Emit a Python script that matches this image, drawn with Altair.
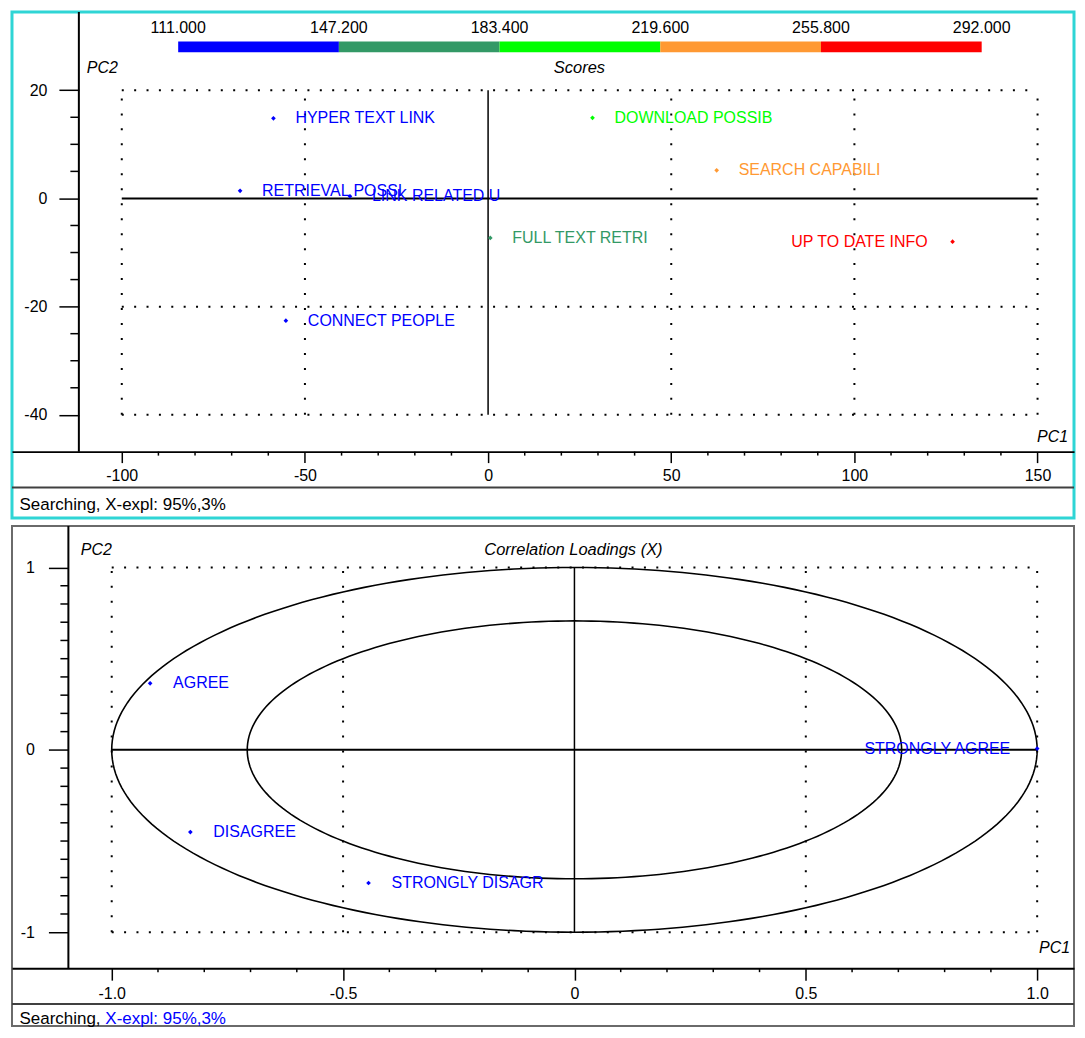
import altair as alt
import numpy as np
import pandas as pd

FONT = "Liberation Sans"

# ---------------- data: scores panel ----------------
score_labels = ["HYPER TEXT LINK", "DOWNLOAD POSSIB", "SEARCH CAPABILI", "RETRIEVAL POSSI",
                "LINK  RELATED U", "FULL TEXT RETRI", "UP TO DATE INFO", "CONNECT PEOPLE"]
score_pc1 = [-58.6, 28.5, 62.4, -67.7, -37.7, 0.6, 126.8, -55.2]
score_pc2 = [14.8, 14.9, 5.2, 1.4, 0.4, -7.3, -8.0, -22.6]
score_value = [119, 201, 232, 111, 136, 174, 292, 123]

colorbar_domain = [111.0, 292.0]
colorbar_ticks = [111.0, 147.2, 183.4, 219.6, 255.8, 292.0]
colorbar_colors = ["#0000FF", "#339966", "#00FF00", "#FF9933", "#FF0000"]

top_x_major = [-100, -50, 0, 50, 100, 150]
top_y_major = [20, 0, -20, -40]
top_x_minor = [-90, -80, -70, -60, -40, -30, -20, -10, 10, 20, 30, 40, 60, 70, 80, 90, 110, 120, 130, 140]
top_y_minor = [15, 10, 5, -5, -10, -15, -25, -30, -35]
top_grid_x = [-100, -50, 50, 100, 150]
top_grid_y = [20, -20, -40]
top_extent_x = [-100, 150]
top_extent_y = [-40, 20]

# ---------------- data: correlation loadings panel ----------------
load_labels = ["AGREE", "DISAGREE", "STRONGLY DISAGR", "STRONGLY AGREE"]
load_pc1 = [-0.917, -0.830, -0.445, 1.0]
load_pc2 = [0.365, -0.451, -0.730, 0.007]

bot_x_major = [-1.0, -0.5, 0.0, 0.5, 1.0]
bot_y_major = [1, 0, -1]
bot_x_minor = [-0.9, -0.8, -0.7, -0.6, -0.4, -0.3, -0.2, -0.1, 0.1, 0.2, 0.3, 0.4, 0.6, 0.7, 0.8, 0.9]
bot_y_minor = [0.9, 0.8, 0.7, 0.6, 0.5, 0.4, 0.3, 0.2, 0.1, -0.1, -0.2, -0.3, -0.4, -0.5, -0.6, -0.7, -0.8, -0.9]
bot_grid_x = [-1.0, -0.5, 0.5, 1.0]
bot_grid_y = [1, -1]
bot_extent = [-1, 1]
circle_radii = [1.0, float(np.sqrt(0.5))]

status_text = "Searching, X-expl: 95%,3%"
status_a = "Searching,"
status_b = "X-expl: 95%,3%"

W = 1064
H1 = 507
H2 = 501


def txt(s, x, y, **kw):
    return alt.Chart(pd.DataFrame({"t": [s]})).mark_text(font=FONT, **kw).encode(
        text="t:N", x=alt.value(x), y=alt.value(y))


def build_panel(xs, ys, xax, yax, grid_x, grid_y, ext_x, ext_y, x_minor, y_minor,
                yaxis_x, yminor_len, xminor_len, axis_y, sep_y):
    def X(f):
        return alt.X(f, type="quantitative", scale=xs, axis=xax)

    def Y(f):
        return alt.Y(f, type="quantitative", scale=ys, axis=yax)

    hd = pd.DataFrame({"x1": [ext_x[0]] * len(grid_y), "x2": [ext_x[1]] * len(grid_y), "y": grid_y})
    vd = pd.DataFrame({"x": grid_x, "y1": [ext_y[0]] * len(grid_x), "y2": [ext_y[1]] * len(grid_x)})
    sh = pd.DataFrame({"x1": [ext_x[0]], "x2": [ext_x[1]], "y": [0]})
    sv = pd.DataFrame({"x": [0], "y1": [ext_y[0]], "y2": [ext_y[1]]})

    layers = [
        alt.Chart(hd).mark_rule(color="black", strokeWidth=2, strokeDash=[2, 10.4]).encode(
            x=X("x1"), x2="x2", y=Y("y")),
        alt.Chart(vd).mark_rule(color="black", strokeWidth=2, strokeDash=[2, 13]).encode(
            x=X("x"), y=Y("y1"), y2="y2"),
        alt.Chart(sh).mark_rule(color="black", strokeWidth=2).encode(x=X("x1"), x2="x2", y=Y("y")),
        alt.Chart(sv).mark_rule(color="black", strokeWidth=1.5).encode(x=X("x"), y=Y("y1"), y2="y2"),
        alt.Chart(pd.DataFrame({"v": x_minor})).mark_rule(color="black", strokeWidth=1.5).encode(
            x=X("v"), y=alt.value(axis_y), y2=alt.value(axis_y + xminor_len)),
        alt.Chart(pd.DataFrame({"v": y_minor})).mark_rule(color="black", strokeWidth=1.5).encode(
            y=Y("v"), x=alt.value(yaxis_x - yminor_len), x2=alt.value(yaxis_x)),
        alt.Chart(pd.DataFrame({"v": [0]})).mark_rule(color="black", strokeWidth=2).encode(
            x=alt.value(yaxis_x), y=alt.value(0), y2=alt.value(axis_y)),
        alt.Chart(pd.DataFrame({"v": [0]})).mark_rule(color="#404040", strokeWidth=2).encode(
            x=alt.value(0), x2=alt.value(W), y=alt.value(sep_y)),
    ]
    return layers, X, Y


# ---------------- top panel ----------------
xs1 = alt.Scale(domain=[-129.97, 159.95], nice=False, zero=False)
ys1 = alt.Scale(domain=[-59.07, 34.47], nice=False, zero=False)
xax1 = alt.Axis(values=top_x_major, tickSize=11, tickWidth=1.5, tickColor="black",
                domainColor="black", domainWidth=2, offset=-66.5, labelFont=FONT,
                labelFontSize=16, labelColor="black", labelPadding=5,
                labelExpr="'' + datum.value", grid=False, title=None,
                labelFlush=False, labelOverlap=False)
yax1 = alt.Axis(values=top_y_major, tickSize=20, tickWidth=1.5, tickColor="black",
                domain=False, offset=-67, labelFont=FONT, labelFontSize=16,
                labelColor="black", labelPadding=12, labelExpr="'' + datum.value",
                grid=False, title=None, labelFlush=False, labelOverlap=False)

layers1, X1, Y1 = build_panel(xs1, ys1, xax1, yax1, top_grid_x, top_grid_y,
                              top_extent_x, top_extent_y, top_x_minor, top_y_minor,
                              67, 8.5, 4, 440.5, 476.5)

cs = alt.Scale(type="quantize", domain=colorbar_domain, range=colorbar_colors, nice=False, zero=False)

df1 = pd.DataFrame({"label": score_labels, "pc1": score_pc1, "pc2": score_pc2, "score": score_value})
col1 = alt.Color("score:Q", scale=cs, legend=None)

pts1 = alt.Chart(df1).mark_point(shape="diamond", filled=True, size=22, opacity=1).encode(
    x=X1("pc1"), y=Y1("pc2"), color=col1)
lab1 = alt.Chart(df1).mark_text(align="left", baseline="middle", dx=22, font=FONT, fontSize=16).encode(
    x=X1("pc1"), y=Y1("pc2"), text="label:N", color=col1).transform_filter(
    alt.datum.label != "UP TO DATE INFO")
lab1r = alt.Chart(df1).mark_text(align="right", baseline="middle", dx=-25, font=FONT, fontSize=16).encode(
    x=X1("pc1"), y=Y1("pc2"), text="label:N", color=col1).transform_filter(
    alt.datum.label == "UP TO DATE INFO")

main1 = alt.layer(
    *layers1, pts1, lab1, lab1r,
    txt("PC2", 90.5, 56.5, fontSize=16, fontStyle="italic", align="center", baseline="middle"),
    txt("Scores", 568.5, 56.5, fontSize=16.5, fontStyle="italic", align="center", baseline="middle"),
    txt("PC1", 1042.5, 425.5, fontSize=16, fontStyle="italic", align="center", baseline="middle"),
    txt(status_text, 7.5, 493.5, fontSize=17, align="left", baseline="middle", color="black"),
)

# colour bar (legend of the score scale) on its own x scale
cbx = alt.Scale(domain=colorbar_domain, range=[166.5, 971.5], nice=False, zero=False)
cb = pd.DataFrame({"lo": colorbar_ticks[:-1], "hi": colorbar_ticks[1:]})
cb_bar = alt.Chart(cb).mark_rect().transform_calculate(
    mid="(datum.lo + datum.hi) / 2").encode(
    x=alt.X("lo:Q", scale=cbx, axis=None), x2="hi:Q",
    y=alt.value(29.5), y2=alt.value(40.5),
    color=alt.Color("mid:Q", scale=cs, legend=None))
cb_lab = alt.Chart(pd.DataFrame({"v": colorbar_ticks})).mark_text(
    font=FONT, fontSize=16, align="center", baseline="middle", color="black").transform_calculate(
    lbl="format(datum.v, '.3f')").encode(
    x=alt.X("v:Q", scale=cbx, axis=None), y=alt.value(16.5), text="lbl:N")
colorbar = alt.layer(cb_bar, cb_lab)

top = alt.layer(main1, colorbar).resolve_scale(x="independent").properties(
    width=W, height=H1,
    view=alt.ViewBackground(stroke="#2FD5D5", strokeWidth=3, fill="white"))

# ---------------- bottom panel ----------------
xs2 = alt.Scale(domain=[-1.2155, 1.0796], nice=False, zero=False)
ys2 = alt.Scale(domain=[-1.5145, 1.2277], nice=False, zero=False)
xax2 = alt.Axis(values=bot_x_major, tickSize=12, tickWidth=1.5, tickColor="black",
                domainColor="black", domainWidth=2, offset=-58, labelFont=FONT,
                labelFontSize=16, labelColor="black", labelPadding=5,
                labelExpr="datum.value == 0 ? '0' : replace(format(datum.value, '.1f'), '\u2212', '-')",
                grid=False, title=None, labelFlush=False, labelOverlap=False)
yax2 = alt.Axis(values=bot_y_major, tickSize=20, tickWidth=1.5, tickColor="black",
                domain=False, offset=-56.5, labelFont=FONT, labelFontSize=16,
                labelColor="black", labelPadding=14, labelExpr="'' + datum.value",
                grid=False, title=None, labelFlush=False, labelOverlap=False)

layers2, X2, Y2 = build_panel(xs2, ys2, xax2, yax2, bot_grid_x, bot_grid_y,
                              bot_extent, bot_extent, bot_x_minor, bot_y_minor,
                              56.5, 8, 4, 443, 479)

theta = np.linspace(0, 2 * np.pi, 241)
circ_rows = []
for ci, r in enumerate(circle_radii):
    for k, t in enumerate(theta):
        circ_rows.append({"c": ci, "k": k, "x": r * np.cos(t), "y": r * np.sin(t)})
circ = pd.DataFrame(circ_rows)
ell = alt.Chart(circ).mark_line(color="black", strokeWidth=1.6).encode(
    x=X2("x"), y=Y2("y"), detail="c:N", order="k:Q")

df2 = pd.DataFrame({"label": load_labels, "pc1": load_pc1, "pc2": load_pc2})
pts2 = alt.Chart(df2).mark_point(shape="diamond", filled=True, size=22, opacity=1, color="#0000FF").encode(
    x=X2("pc1"), y=Y2("pc2"))
lab2 = alt.Chart(df2).mark_text(align="left", baseline="middle", dx=23, font=FONT, fontSize=16,
                                color="#0000FF").encode(
    x=X2("pc1"), y=Y2("pc2"), text="label:N").transform_filter(alt.datum.label != "STRONGLY AGREE")
lab2r = alt.Chart(df2).mark_text(align="right", baseline="middle", dx=-27, font=FONT, fontSize=16,
                                 color="#0000FF").encode(
    x=X2("pc1"), y=Y2("pc2"), text="label:N").transform_filter(alt.datum.label == "STRONGLY AGREE")

bottom = alt.layer(
    *layers2, ell, pts2, lab2, lab2r,
    txt("PC2", 84.5, 24, fontSize=16, fontStyle="italic", align="center", baseline="middle"),
    txt("Correlation Loadings (X)", 562.5, 24, fontSize=16.5, fontStyle="italic", align="center",
        baseline="middle"),
    txt("PC1", 1044.5, 423, fontSize=16, fontStyle="italic", align="center", baseline="middle"),
    txt(status_a, 7.5, 493.5, fontSize=17, align="left", baseline="middle", color="black"),
    txt(status_b, 93.5, 493.5, fontSize=17, align="left", baseline="middle", color="#0000FF"),
).properties(width=W, height=H2,
             view=alt.ViewBackground(stroke="#6A6A6A", strokeWidth=2, fill="white"))

chart = alt.vconcat(top, bottom, spacing=4).configure(
    padding={"left": 1, "top": 0, "right": 0, "bottom": 0}, background="white")

chart.save("out.html", embed_options={"renderer": "svg", "actions": False})
